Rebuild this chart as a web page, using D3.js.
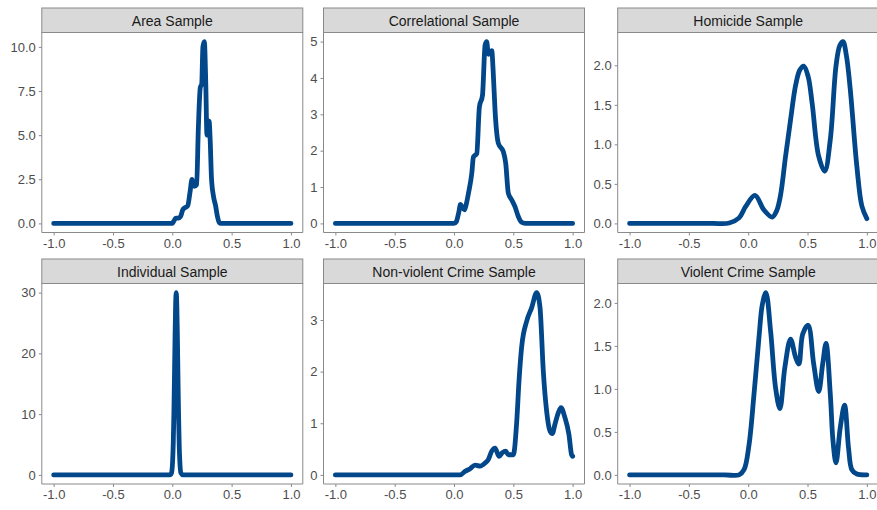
<!DOCTYPE html>
<html>
<head>
<meta charset="utf-8">
<script src="https://cdn.jsdelivr.net/npm/d3@7"></script>
<style>
  html, body { margin: 0; padding: 0; background: #ffffff; }
  svg { display: block; font-family: "Liberation Sans", Arial, sans-serif; }
</style>
</head>
<body>
<svg id="chart" width="877" height="510"></svg>
<script>
// Facet titles, in reading order
const panelTitles = [
  "Area Sample", "Correlational Sample", "Homicide Sample",
  "Individual Sample", "Non-violent Crime Sample", "Violent Crime Sample"
];

// Shared x ticks (correlation value)
const xTickValues = [-1, -0.5, 0, 0.5, 1];
const xTickLabels = ["-1.0", "-0.5", "0.0", "0.5", "1.0"];

// y ticks per panel
const yTickValues = [
  [0, 2.5, 5, 7.5, 10],
  [0, 1, 2, 3, 4, 5],
  [0, 0.5, 1, 1.5, 2],
  [0, 10, 20, 30],
  [0, 1, 2, 3],
  [0, 0.5, 1, 1.5, 2]
];
const yTickLabels = [
  ["0.0", "2.5", "5.0", "7.5", "10.0"],
  ["0", "1", "2", "3", "4", "5"],
  ["0.0", "0.5", "1.0", "1.5", "2.0"],
  ["0", "10", "20", "30"],
  ["0", "1", "2", "3"],
  ["0.0", "0.5", "1.0", "1.5", "2.0"]
];

// Density estimates: x positions and density values for each sample
const areaX = [-1, 0.0, 0.01, 0.03, 0.05, 0.07, 0.09, 0.11, 0.13, 0.15, 0.166, 0.185, 0.205, 0.22, 0.236, 0.248, 0.258, 0.27, 0.282, 0.292, 0.30, 0.31, 0.32, 0.33, 0.348, 0.365, 0.38, 0.396, 0.41, 1];
const areaY = [0, 0, 0.1, 0.3, 0.3, 0.4, 0.8, 0.9, 1.0, 1.8, 2.5, 2.1, 2.2, 5.5, 7.7, 7.9, 10.0, 10.3, 8.0, 5.0, 5.2, 5.8, 4.6, 2.6, 1.5, 1.0, 0.4, 0.05, 0, 0];

const corrX = [-1, 0.0, 0.02, 0.04, 0.055, 0.07, 0.088, 0.105, 0.122, 0.15, 0.164, 0.192, 0.214, 0.24, 0.262, 0.275, 0.29, 0.318, 0.33, 0.346, 0.374, 0.416, 0.436, 0.458, 0.486, 0.514, 0.542, 0.57, 0.6, 1];
const corrY = [0, 0, 0.05, 0.3, 0.52, 0.45, 0.37, 0.55, 0.83, 1.38, 1.83, 1.92, 3.2, 3.52, 4.9, 5.0, 4.65, 4.75, 4.2, 3.1, 2.2, 1.97, 1.65, 0.83, 0.65, 0.46, 0.19, 0.03, 0, 0];

const homX = [-1, -0.6, -0.3, -0.16, -0.077, -0.021, 0.057, 0.133, 0.203, 0.24, 0.273, 0.315, 0.357, 0.4, 0.435, 0.468, 0.505, 0.539, 0.594, 0.645, 0.692, 0.74, 0.772, 0.799, 0.828, 0.86, 0.916, 0.958, 1.0];
const homY = [0, 0, 0, 0.005, 0.07, 0.215, 0.355, 0.17, 0.08, 0.16, 0.36, 0.85, 1.31, 1.75, 1.94, 1.99, 1.86, 1.52, 0.85, 0.66, 1.06, 1.99, 2.25, 2.30, 2.12, 1.70, 0.72, 0.22, 0.06];

const indX = [-1, -0.02, -0.007, 0.003, 0.008, 0.013, 0.018, 0.023, 0.028, 0.033, 0.038, 0.043, 0.048, 0.053, 0.058, 0.063, 0.073, 0.09, 1];
const indY = [0, 0, 0.3, 2.4, 5.1, 9.7, 15.9, 22.6, 28.0, 30.0, 28.0, 22.6, 15.9, 9.7, 5.1, 2.4, 0.3, 0, 0];

const nonvX = [-1, 0.052, 0.094, 0.136, 0.178, 0.22, 0.262, 0.29, 0.318, 0.346, 0.38, 0.408, 0.436, 0.458, 0.5, 0.529, 0.548, 0.57, 0.613, 0.655, 0.697, 0.725, 0.753, 0.781, 0.809, 0.829, 0.851, 0.879, 0.902, 0.935, 0.969, 0.991, 1.0];
const nonvY = [0, 0, 0.07, 0.12, 0.19, 0.17, 0.23, 0.30, 0.46, 0.52, 0.36, 0.43, 0.46, 0.39, 0.39, 1.04, 1.82, 2.47, 2.98, 3.24, 3.53, 3.24, 2.0, 1.23, 0.85, 0.80, 0.98, 1.2, 1.30, 1.11, 0.78, 0.39, 0.36];

const violX = [-1, -0.6, -0.2, -0.077, -0.035, 0.007, 0.049, 0.091, 0.119, 0.149, 0.189, 0.231, 0.267, 0.309, 0.357, 0.399, 0.427, 0.46, 0.505, 0.552, 0.594, 0.628, 0.656, 0.692, 0.715, 0.74, 0.776, 0.812, 0.846, 0.874, 0.916, 1.0];
const violY = [0, 0, 0, 0, 0.06, 0.35, 0.94, 1.6, 1.98, 2.12, 1.67, 1.01, 0.77, 1.25, 1.58, 1.37, 1.29, 1.64, 1.74, 1.29, 0.97, 1.29, 1.53, 0.94, 0.39, 0.14, 0.55, 0.81, 0.31, 0.06, 0.01, 0];

const seriesX = [areaX, corrX, homX, indX, nonvX, violX];
const seriesY = [areaY, corrY, homY, indY, nonvY, violY];

// Jagged estimates keep monotone interpolation; the smooth ones use Catmull-Rom
const panelCurves = [
  d3.curveMonotoneX, d3.curveMonotoneX, d3.curveCatmullRom.alpha(0.5),
  d3.curveMonotoneX, d3.curveMonotoneX, d3.curveCatmullRom.alpha(0.5)
];

// Facet grid geometry
const colLeft = [41.8, 323.5, 617.7];
const panelW = 261;
const rowStripTop = [8, 259];
const stripH = 24.5;
const panelH = [200, 200.5];

const lineColor = "#02478a";
const frameColor = "#8a8a8a";
const tickTextColor = "#4d4d4d";

const svg = d3.select("#chart");

panelTitles.forEach((title, i) => {
  const col = i % 3, row = Math.floor(i / 3);
  const left = colLeft[col];
  const stripTop = rowStripTop[row];
  const top = stripTop + stripH;
  const h = panelH[row];

  const xs = seriesX[i], ys = seriesY[i];
  const yMax = d3.max(ys);

  const x = d3.scaleLinear().domain([-1.1, 1.1]).range([left, left + panelW]);
  const y = d3.scaleLinear().domain([-0.05 * yMax, 1.05 * yMax]).range([top + h, top]);

  const g = svg.append("g");

  // Density line, clipped to the panel
  const clipId = "clip" + i;
  svg.append("clipPath").attr("id", clipId)
    .append("rect").attr("x", left).attr("y", top).attr("width", panelW).attr("height", h);

  const pts = xs.map((v, k) => [v, ys[k]]);
  const line = d3.line().x(d => x(d[0])).y(d => y(d[1])).curve(panelCurves[i]);
  g.append("path")
    .attr("clip-path", `url(#${clipId})`)
    .attr("d", line(pts))
    .attr("fill", "none")
    .attr("stroke", lineColor)
    .attr("stroke-width", 4.8)
    .attr("stroke-linecap", "round")
    .attr("stroke-linejoin", "round");

  // Panel frame: left, bottom, right
  g.append("path")
    .attr("d", `M${left},${top}V${top + h}H${left + panelW}V${top}`)
    .attr("fill", "none").attr("stroke", frameColor).attr("stroke-width", 1);

  // Strip
  g.append("rect")
    .attr("x", left).attr("y", stripTop).attr("width", panelW).attr("height", stripH)
    .attr("fill", "#d9d9d9").attr("stroke", frameColor).attr("stroke-width", 1);
  g.append("text")
    .attr("x", left + panelW / 2).attr("y", stripTop + stripH / 2 + 0.5)
    .attr("text-anchor", "middle").attr("dominant-baseline", "central")
    .attr("font-size", 14).attr("fill", "#1a1a1a")
    .text(title);

  // Axes
  const xAxis = d3.axisBottom(x).tickValues(xTickValues)
    .tickFormat((d, k) => xTickLabels[k]).tickSize(3).tickPadding(3);
  const gx = g.append("g").attr("transform", `translate(0,${top + h})`).call(xAxis);

  const yAxis = d3.axisLeft(y).tickValues(yTickValues[i])
    .tickFormat((d, k) => yTickLabels[i][k]).tickSize(3).tickPadding(3);
  const gy = g.append("g").attr("transform", `translate(${left},0)`).call(yAxis);

  [gx, gy].forEach(a => {
    a.attr("font-size", 13).attr("font-family", "Liberation Sans, Arial, sans-serif");
    a.select(".domain").remove();
    a.selectAll(".tick line").attr("stroke", frameColor);
    a.selectAll(".tick text").attr("fill", tickTextColor);
  });
});
</script>
</body>
</html>
